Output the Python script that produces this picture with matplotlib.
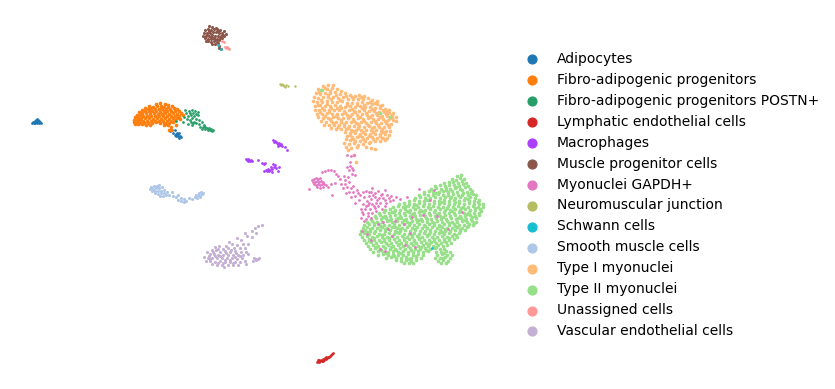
import matplotlib
matplotlib.use("Agg")
import matplotlib.pyplot as plt

CATEGORIES = ["Adipocytes", "Fibro-adipogenic progenitors", "Fibro-adipogenic progenitors POSTN+",
              "Lymphatic endothelial cells", "Macrophages", "Muscle progenitor cells", "Myonuclei GAPDH+",
              "Neuromuscular junction", "Schwann cells", "Smooth muscle cells", "Type I myonuclei",
              "Type II myonuclei", "Unassigned cells", "Vascular endothelial cells"]
COLORS = ["#1f77b4", "#ff7f0e", "#279e68", "#d62728", "#aa40fc", "#8c564b", "#e377c2",
          "#b5bd61", "#17becf", "#aec7e8", "#ffbb78", "#98df8a", "#ff9896", "#c5b0d5"]

ADIPO = [(32,123),(33,122),(34,122),(35,121),(35,123),(36,120),(36,122),(37,119),(37,121),(38,120),(38,122),(39,121),
         (39,123),(40,122),(41,123),(34,123),(37,123),(170,131),(172,130),(173,133),(175,130),(176,134),(177,135),
         (178,134),(179,133),(176,136),(178,136),(180,136),(179,138),(181,137),(175,135),(177,133)]
FAP = [(156,104),(160,103),(165,104),(168,105),(149,106),(153,107),(157,106),(161,106),(164,107),(168,107),(172,106),
       (145,108),(148,109),(151,108),(155,109),(159,109),(162,109),(166,109),(170,109),(174,108),(177,109),
       (142,110),(145,111),(149,111),(152,111),(156,111),(160,112),(164,111),(167,111),(171,111),(175,111),(179,111),
       (139,112),(142,113),(146,113),(150,114),(154,113),(158,114),(162,114),(165,113),(169,114),(173,113),(177,114),(181,113),
       (137,115),(140,115),(143,116),(147,116),(151,116),(155,116),(159,116),(163,116),(167,116),(171,116),(175,116),(179,116),(183,115),
       (135,117),(138,118),(141,118),(145,118),(149,118),(153,119),(157,118),(161,119),(165,118),(169,119),(173,118),(177,118),(180,119),
       (134,120),(137,120),(140,120),(143,121),(147,121),(151,121),(155,121),(159,121),(163,121),(167,121),(171,121),(175,120),
       (134,122),(137,122),(140,123),(144,123),(148,123),(152,123),(156,122),(160,123),(164,123),(169,123),(173,122),
       (135,124),(138,124),(142,124),(146,125),(150,125),(164,125),(168,125),(171,127),(169,130),(171,130),(166,124),(176,125)]
POSTN = [(185,110),(189,111),(192,110),(195,111),(198,112),(186,113),(190,113),(193,113),(196,114),(188,116),(191,115),
         (194,116),(198,115),(184,117),(187,119),(192,118),(196,119),(176,121),(183,122),(188,124),(191,122),(193,123),
         (196,123),(199,124),(202,122),(192,125),(194,122),(200,127),(203,127),(205,127),(207,128),(209,128),(211,129),
         (213,130),(202,129),(205,129),(208,130),(210,130),(212,131),(204,125),(199,120),(190,120)]
LYMPH = [(317,362),(318,360),(319,362),(320,361),(321,360),(322,361),(323,359),(324,360),(325,358),(326,359),
         (327,358),(328,357),(329,357),(330,356),(331,355),(332,354),(333,353),(319,360),(323,361),(326,357)]
MACRO = [(273,140),(274,142),(275,141),(276,142),(277,143),(278,144),(279,143),(280,145),(281,144),(282,146),(278,146),
         (285,147),(287,150),(246,159),(247,160),(248,159),(249,160),(250,161),(251,160),(252,161),(248,161),(258,160),
         (262,163),(264,164),(265,163),(266,170),(268,169),(270,170),(267,171),(269,171),(272,172),(275,165),(274,167),
         (273,164),(276,168),(279,167),(278,171),(272,169),(264,171),(271,167)]
MUSCLE = [(209,26),(212,27),(205,30),(208,29),(211,30),(214,29),(217,29),(220,30),(224,31),(204,33),(207,33),(210,33),
          (213,32),(216,32),(219,33),(222,33),(226,34),(203,36),(206,36),(209,36),(212,35),(215,36),(218,36),(221,36),
          (224,36),(205,38),(208,39),(211,39),(214,38),(217,39),(220,38),(208,41),(211,42),(214,41),(217,42),(212,44),
          (215,44),(218,43),(219,46),(221,49),(219,48),(223,35),(216,28),(211,37),(206,41),(213,38),(209,31),(218,31),
          (222,38),(207,35),(215,40),(219,40)]
GAPDH = [(312,180),(314,179),(316,178),(318,179),(320,178),(313,182),(315,182),(317,181),(319,182),(321,181),(323,182),
         (314,184),(316,185),(318,184),(320,185),(322,184),(324,184),(326,185),(317,187),(320,188),(323,187),(328,187),
         (322,172),(325,171),(328,170),(331,170),(334,171),(336,174),(338,176),(309,189),(331,184),(335,183),(332,195),
         (347,155),(351,156),(354,155),(350,162),(347,167),(350,166),(352,168),(349,170),(353,170),(352,174),(355,175),
         (340,179),(345,180),(341,184),(345,184),(349,182),(343,188),(347,187),(351,188),(349,192),(353,192),(357,190),
         (346,193),(355,196),(351,197),(360,195),(359,200),(355,203),(363,192),(366,191),(369,196),(372,188),(371,192),
         (375,193),(378,191),(382,194),(364,197),(367,201),(371,199),(375,197),(379,198),(383,198),(387,195),(363,204),
         (368,205),(372,204),(376,203),(380,203),(386,203),(390,201),(396,197),(361,209),(365,209),(370,209),(375,208),
         (363,214),(368,213),(372,213),(361,218),(366,219),(371,218),(391,196),(400,199),(407,197),(385,190),(419,189),
         (434,190),(362,231),(367,234),(371,240),(378,224),(383,222),(388,229),(395,221),(404,224),(412,217),(423,215),
         (437,216),(448,229),(405,245),(385,251),(380,249),(415,247),(410,233),(462,212),(392,236),(430,200),
         (373,195),(377,200),(381,195),(385,200),(369,203),(374,206),(378,206),(366,206),(362,212),(389,198),(393,200),
         (385,206),(382,209),(376,211),(368,216),(364,221),(369,192),(358,193),(353,186),(348,177),(344,176)]
NMJ = [(280,84),(281,85),(282,84),(283,85),(284,86),(285,87),(286,85),(288,86),(295,86)]
SCHWANN = [(218,45),(221,49),(432,248)]
SMOOTH = [(151,187),(154,186),(157,186),(159,185),(150,189),(153,189),(156,188),(159,188),(162,187),(152,191),(155,191),
          (158,191),(161,191),(164,190),(155,193),(158,194),(161,193),(164,193),(167,192),(160,196),(163,196),(166,195),
          (169,195),(173,196),(172,192),(176,197),(178,195),(181,198),(184,199),(178,200),(181,201),(184,202),(186,201),
          (189,198),(192,199),(195,197),(197,198),(198,195),(200,196),(202,194),(203,193),(199,193),(201,192),(200,197),(196,195)]
TYPE1 = [(323,86),(328,85),(333,85),(318,89),(322,90),(327,89),(332,88),(337,89),(341,91),(316,93),(320,94),(325,93),
         (330,93),(335,92),(340,94),(345,93),(350,95),(355,96),(359,95),(364,96),(314,97),(318,98),(323,97),(328,97),(333,97),
         (338,98),(343,97),(348,99),(353,99),(358,99),(363,99),(368,98),(372,100),(377,101),(313,101),(317,102),(322,102),
         (327,101),(332,102),(337,102),(342,101),(347,103),(352,103),(357,103),(362,102),(367,103),(372,104),(377,104),(382,105),
         (315,106),(320,105),(325,106),(330,106),(335,105),(340,106),(345,107),(350,106),(355,107),(360,106),(365,107),(370,107),
         (375,108),(380,108),(385,109),(389,110),(315,110),(319,110),(324,110),(329,110),(334,110),(339,110),(344,111),(349,110),
         (354,111),(359,111),(364,110),(369,111),(374,111),(379,112),(384,112),(389,113),(393,113),(317,114),(322,114),(327,113),
         (332,114),(337,114),(342,114),(347,115),(352,114),(357,115),(362,114),(367,115),(372,115),(377,115),(382,116),(387,116),
         (392,117),(396,117),(318,117),(323,118),(328,118),(333,117),(338,118),(343,118),(348,118),(353,119),(358,118),(363,119),
         (368,118),(373,119),(378,119),(383,119),(388,120),(393,120),(396,121),(321,121),(326,122),(331,121),(336,122),(341,122),
         (346,122),(351,122),(356,123),(361,122),(366,123),(371,122),(376,123),(381,123),(386,123),(391,124),(324,125),(329,125),
         (334,125),(339,125),(344,126),(349,126),(354,126),(359,126),(364,127),(369,126),(374,127),(379,127),(384,127),(389,127),
         (331,128),(336,129),(341,129),(346,129),(351,130),(356,130),(361,130),(366,130),(371,130),(376,130),(381,131),(386,131),
         (390,131),(345,132),(350,133),(355,133),(360,134),(365,134),(370,134),(375,134),(380,134),(385,134),(389,135),(347,136),
         (352,137),(357,137),(362,137),(367,138),(372,137),(377,138),(382,138),(387,138),(346,139),(350,140),(355,141),(360,141),
         (365,141),(370,142),(375,141),(380,141),(385,140),(344,143),(349,144),(354,143),(358,145),(363,144),(369,143),(346,147),
         (351,148),(357,147),(366,147),(371,148),(348,150),(375,149),(354,155),(356,162),
         (325,88),(330,91),(319,92),(336,95),(328,95),(321,100),(331,99),(340,100),(346,96),(352,97),(361,97),(370,102),(375,103),
         (318,105),(327,104),(337,108),(347,105),(357,105),(364,105),(380,106),(387,111),(322,108),(331,108),(341,108),(352,109),
         (362,108),(372,109),(383,110),(392,115),(320,112),(329,112),(345,113),(355,112),(366,113),(376,113),(386,114),(325,116),
         (336,116),(350,116),(360,117),(370,117),(380,117),(390,118),(330,119),(341,120),(354,121),(364,121),(375,121),(385,121),
         (333,123),(344,124),(358,124),(368,125),(378,125),(388,125),(338,127),(348,128),(358,128),(372,128),(382,129),(353,131),
         (363,132),(373,132),(383,132),(350,135),(359,136),(369,136),(380,136),(353,139),(363,139),(373,139),(383,138)]
TYPE2 = [(457,176),(461,175),(452,179),(456,180),(460,178),(464,179),(444,183),(449,182),(453,182),(458,183),(462,181),(466,183),
         (435,186),(440,185),(445,186),(449,185),(454,185),(459,186),(463,184),(468,186),(431,189),(436,188),(441,189),(446,188),
         (450,189),(455,188),(460,189),(465,187),(470,189),(424,192),(429,191),(433,192),(439,192),(443,191),(448,192),(452,191),
         (457,192),(462,190),(467,192),(472,191),(419,195),(424,194),(428,195),(433,195),(438,194),(443,195),(448,195),(453,194),
         (458,195),(463,193),(468,195),(473,194),(476,195),(415,198),(420,197),(425,198),(430,198),(435,197),(440,198),(445,197),
         (450,198),(455,198),(460,197),(465,198),(470,197),(475,198),(409,201),(414,200),(419,201),(424,201),(429,200),(434,201),
         (439,201),(444,200),(449,201),(454,200),(459,201),(464,200),(469,201),(474,201),(479,200),(399,204),(404,203),(409,204),
         (414,204),(419,203),(424,204),(429,204),(434,203),(439,204),(444,203),(449,204),(454,204),(459,203),(464,204),(469,203),
         (474,204),(479,204),(483,204),(393,207),(398,206),(403,207),(408,206),(413,207),(418,207),(423,206),(428,207),(433,206),
         (438,207),(443,207),(448,206),(453,207),(458,206),(463,207),(468,207),(473,206),(478,207),(483,207),(385,210),(390,209),
         (395,210),(400,210),(405,209),(410,210),(415,209),(420,210),(425,210),(430,209),(435,210),(440,209),(445,210),(450,210),
         (455,209),(460,210),(465,209),(470,210),(475,210),(480,209),(379,213),(384,212),(389,213),(394,212),(399,213),(404,213),
         (409,212),(414,213),(419,212),(424,213),(429,213),(434,212),(439,213),(444,212),(449,213),(454,213),(459,212),(464,213),
         (469,212),(474,213),(479,213),(375,216),(380,215),(385,216),(390,216),(395,215),(400,216),(405,215),(410,216),(415,216),
         (420,215),(425,216),(430,215),(435,216),(440,216),(445,215),(450,216),(455,215),(460,216),(465,216),(470,215),(475,216),
         (479,215),(371,219),(376,218),(381,219),(386,218),(391,219),(396,219),(401,218),(406,219),(411,218),(416,219),(421,219),
         (426,218),(431,219),(436,218),(441,219),(446,219),(451,218),(456,219),(461,218),(466,219),(471,219),(476,218),(367,222),
         (372,221),(377,222),(382,222),(387,221),(392,222),(397,221),(402,222),(407,222),(412,221),(417,222),(422,221),(427,222),
         (432,222),(437,221),(442,222),(447,221),(452,222),(457,222),(462,221),(467,222),(472,221),(476,222),(364,225),(369,224),
         (374,225),(379,224),(384,225),(389,225),(394,224),(399,225),(404,224),(409,225),(414,225),(419,224),(424,225),(429,224),
         (434,225),(439,225),(444,224),(449,225),(454,224),(459,225),(464,225),(469,224),(473,225),(363,228),(367,227),(372,228),
         (377,228),(382,227),(387,228),(392,227),(397,228),(402,228),(407,227),(412,228),(417,227),(422,228),(427,228),(432,227),
         (437,228),(442,227),(447,228),(452,228),(457,227),(462,228),(467,227),(361,231),(365,230),(370,231),(375,231),(380,230),
         (385,231),(390,230),(395,231),(400,231),(405,230),(410,231),(415,230),(420,231),(425,231),(430,230),(435,231),(440,230),
         (445,231),(450,231),(455,230),(460,231),(465,230),(360,234),(364,233),(369,234),(374,233),(379,234),(384,234),(389,233),
         (394,234),(399,233),(404,234),(409,234),(414,233),(419,234),(424,233),(429,234),(434,234),(439,233),(444,234),(449,233),
         (454,234),(459,233),(362,237),(367,236),(372,237),(377,236),(382,237),(387,237),(392,236),(397,237),(402,236),(407,237),
         (412,237),(417,236),(422,237),(427,236),(432,237),(437,237),(442,236),(447,237),(452,236),(457,237),(364,240),(369,239),
         (374,240),(379,240),(384,239),(389,240),(394,239),(399,240),(404,240),(409,239),(414,240),(419,239),(424,240),(429,240),
         (434,239),(439,240),(444,239),(449,240),(454,239),(366,243),(371,242),(376,243),(381,242),(386,243),(391,243),(396,242),
         (401,243),(406,242),(411,243),(416,243),(421,242),(426,243),(431,242),(436,243),(441,243),(446,242),(451,243),(368,246),
         (373,245),(378,246),(383,246),(388,245),(393,246),(398,245),(403,246),(408,246),(413,245),(418,246),(423,245),(428,246),
         (433,246),(438,245),(443,246),(447,245),(370,249),(375,248),(380,249),(385,248),(390,249),(395,249),(400,248),(405,249),
         (410,248),(415,249),(420,249),(425,248),(430,249),(435,248),(440,249),(444,249),(373,252),(378,251),(383,252),(388,252),
         (393,251),(398,252),(403,251),(408,252),(413,252),(418,251),(423,252),(428,251),(436,252),(441,252),(446,251),(450,252),
         (378,255),(383,254),(388,255),(393,254),(398,255),(403,255),(408,254),(413,255),(418,254),(423,255),(437,255),(442,254),
         (447,255),(452,255),(386,258),(391,257),(396,258),(401,258),(406,257),(411,258),(416,257),(421,258),(435,258),(440,258),
         (445,257),(450,258),(396,260),(401,261),(406,260),(411,261),(416,260),(438,261),(443,260),(448,261),(404,263),(409,263),
         (441,263),(446,263),(413,263),(321,90),(380,113),(390,117),
         (446,190),(456,187),(436,193),(451,197),(462,195),(471,193),(427,200),(441,202),(455,202),(468,199),(478,202),(405,206),
         (416,205),(430,208),(447,208),(461,208),(475,208),(392,212),(407,211),(422,211),(437,214),(452,211),(467,214),(481,211),
         (383,217),(398,218),(412,214),(427,219),(443,217),(458,218),(472,217),(374,223),(389,220),(404,220),(419,220),(434,223),
         (449,223),(464,220),(474,223),(380,226),(395,227),(410,223),(425,226),(440,226),(455,226),(468,226),(370,229),(385,229),
         (400,229),(415,229),(430,232),(445,229),(460,229),(367,232),(382,235),(397,232),(412,235),(427,235),(442,232),(456,235),
         (374,238),(389,238),(404,238),(419,238),(434,241),(449,238),(369,241),(384,241),(399,244),(414,241),(429,244),(444,241),
         (376,247),(391,247),(406,244),(421,247),(436,247),(381,250),(396,250),(411,250),(426,250),(386,253),(401,253),(416,256),
         (444,253),(394,256),(409,259),(443,258)]
UNASSIGNED = [(222,41),(224,42),(225,47),(226,48),(227,47),(228,48),(229,49)]
VASC = [(255,228),(258,226),(262,225),(252,231),(245,233),(256,233),(247,236),(237,238),(229,242),(241,240),(252,237),
        (226,246),(232,244),(237,245),(243,244),(248,244),(215,247),(219,246),(223,249),(228,248),(234,248),(240,248),(245,248),
        (212,250),(216,250),(220,252),(225,251),(230,252),(235,251),(241,252),(246,252),(207,252),(210,254),(214,254),(218,255),
        (223,255),(228,255),(233,255),(238,255),(243,255),(248,254),(204,257),(208,258),(212,258),(217,258),(222,258),(227,258),
        (232,258),(237,259),(242,258),(206,261),(210,261),(215,262),(220,261),(225,262),(230,262),(235,262),(240,262),(245,261),
        (212,264),(217,265),(222,265),(228,265),(233,265),(238,265),(224,267),(254,258),(256,259),(258,259),(253,261),(256,260),
        (259,258),(246,264),(213,252),(218,249),(226,253),(231,250),(236,253),(209,256),(215,256),(220,256),(225,260),(230,260),
        (235,257),(240,256),(210,259),(218,263),(223,263),(233,263)]

GROUPS = [ADIPO, FAP, POSTN, LYMPH, MACRO, MUSCLE, GAPDH, NMJ, SCHWANN, SMOOTH, TYPE1, TYPE2, UNASSIGNED, VASC]
SIZES = [4, 7, 4, 4, 4, 5, 4, 3, 4, 5, 7, 7, 4, 5]
ORDER = [0, 1, 2, 3, 4, 5, 7, 9, 10, 11, 13, 12, 6, 8]

fig = plt.figure(figsize=(8.35, 3.89), dpi=100)
ax = fig.add_axes([0, 0, 1, 1])
ax.set_xlim(0, 835)
ax.set_ylim(389, 0)
ax.axis("off")

for i in ORDER:
    xs = [p[0] for p in GROUPS[i]]
    ys = [p[1] for p in GROUPS[i]]
    ax.scatter(xs, ys, s=SIZES[i], c=COLORS[i], linewidths=0, zorder=2)

handles = [ax.scatter([], [], s=40, c=c, label=l) for c, l in zip(COLORS, CATEGORIES)]
ax.legend(handles=handles, loc="center left", bbox_to_anchor=(518 / 835, 1 - 195 / 389), frameon=False,
          fontsize=10, borderaxespad=0, borderpad=0, handletextpad=0.8)

fig.savefig("out.png", dpi=100)
